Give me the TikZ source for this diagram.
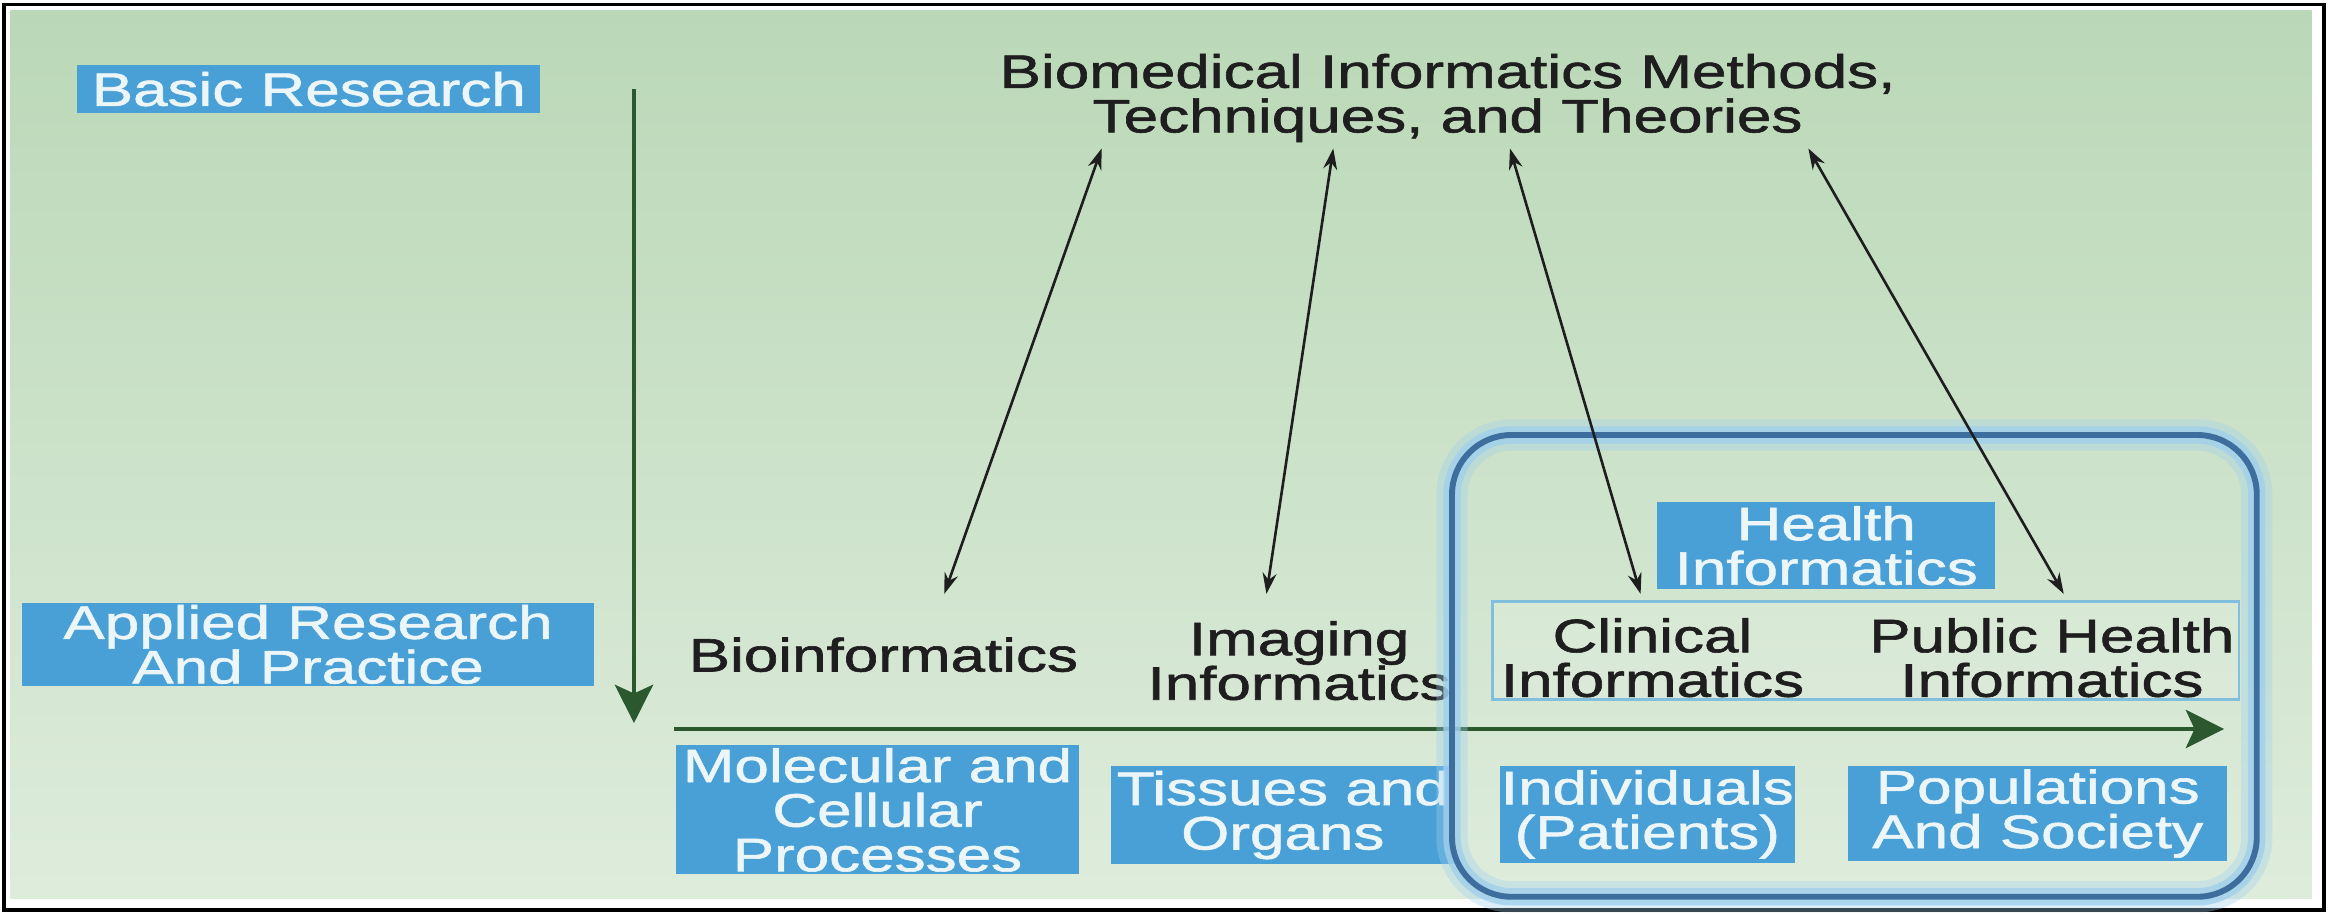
\documentclass[tikz,border=0pt]{standalone}
\usepackage{fontspec}
\setmainfont[FakeStretch=1.32,FakeBold=1.3]{Liberation Sans}
\usetikzlibrary{arrows.meta}
\definecolor{bgtop}{RGB}{186,216,183}
\definecolor{bgbot}{RGB}{222,236,220}
\definecolor{boxblue}{RGB}{72,160,214}
\definecolor{boxtext}{RGB}{236,246,248}
\definecolor{axisgreen}{RGB}{44,88,48}
\definecolor{rimblue}{RGB}{62,110,158}
\definecolor{glowblue}{RGB}{160,208,236}
\definecolor{thinblue}{RGB}{130,190,222}
\definecolor{inktext}{RGB}{30,30,30}
\begin{document}
\begin{tikzpicture}[x=0.015cm,y=-0.015cm,
  bluebox/.style={fill=boxblue,text=boxtext,align=center,inner sep=0pt,font=\fontsize{13.5}{12.8}\selectfont},
  inklabel/.style={text=inktext,align=center,inner sep=0pt,font=\fontsize{13.5}{12.8}\selectfont},
  axisarrow/.style={draw=axisgreen,line width=1.2pt,-{Stealth[length=11pt,width=11pt,inset=2.5pt]}},
  linkarrow/.style={draw=inktext,line width=0.75pt,{Stealth[length=6pt,width=4pt]}-{Stealth[length=6pt,width=4pt]}},
  zonebox/.style={draw=rimblue,line width=1.7pt,rounded corners=0.6cm,inner sep=0pt,
    preaction={draw=glowblue,line width=9pt,opacity=0.35},
    preaction={draw=glowblue,line width=5pt,opacity=0.8}}]
\useasboundingbox (0,0) rectangle (1568,616);
\fill[white] (0,0) rectangle (1568,616);
\shade[top color=bgtop,bottom color=bgbot] (7,7) rectangle (1557,605);
\draw[black,line width=1.1pt] (2.5,3) rectangle (1565.5,613);

% left labels
\node[bluebox,minimum width=4.68cm,minimum height=0.48cm] (basic) at (208,60) {Basic Research};
\node[bluebox,minimum width=5.775cm,minimum height=0.84cm] (applied) at (207.5,434) {Applied Research\\And Practice};

% title
\node[inklabel] (title) at (975,66) {Biomedical Informatics Methods,\\Techniques, and Theories};

% informatics fields
\node[inklabel] (bio) at (595,441) {Bioinformatics};
\node[inklabel] (imaging) at (875,445) {Imaging\\Informatics};
\node[draw=thinblue,line width=0.8pt,fill=white,fill opacity=0.12,minimum width=7.545cm,minimum height=0.99cm,inner sep=0pt] (pair) at (1256.5,438) {};
\node[inklabel] (clinical) at (1113,443) {Clinical\\Informatics};
\node[inklabel] (public) at (1382,443) {Public Health\\Informatics};
\node[bluebox,minimum width=3.42cm,minimum height=0.885cm] (health) at (1230,367.5) {Health\\Informatics};

% scale boxes
\node[bluebox,minimum width=4.08cm,minimum height=1.305cm] (molecular) at (591,545.5) {Molecular and\\Cellular\\Processes};
\node[bluebox,minimum width=3.48cm,minimum height=0.99cm] (tissues) at (864,549) {Tissues and\\Organs};
\node[bluebox,minimum width=2.985cm,minimum height=0.975cm] (individuals) at (1109.5,548.5) {Individuals\\(Patients)};
\node[bluebox,minimum width=3.825cm,minimum height=0.96cm] (populations) at (1372.5,548) {Populations\\And Society};

% axes
\coordinate (vtop) at (427,60);
\coordinate (vbot) at (427,487);
\coordinate (hleft) at (454,491);
\coordinate (hright) at (1498,491);
\draw[axisarrow] (vtop) -- (vbot);
\draw[axisarrow] (hleft) -- (hright);

% health informatics zone
\node[zonebox,minimum width=8.13cm,minimum height=4.665cm] (zone) at (1249,448.5) {};

% links
\coordinate (t1) at (742,100);
\coordinate (b1) at (636,400);
\coordinate (t2) at (898,100);
\coordinate (b2) at (853,400);
\coordinate (t3) at (1017,100);
\coordinate (b3) at (1105,400);
\coordinate (t4) at (1218,100);
\coordinate (b4) at (1390,400);
\draw[linkarrow] (t1) -- (b1);
\draw[linkarrow] (t2) -- (b2);
\draw[linkarrow] (t3) -- (b3);
\draw[linkarrow] (t4) -- (b4);
\end{tikzpicture}
\end{document}
